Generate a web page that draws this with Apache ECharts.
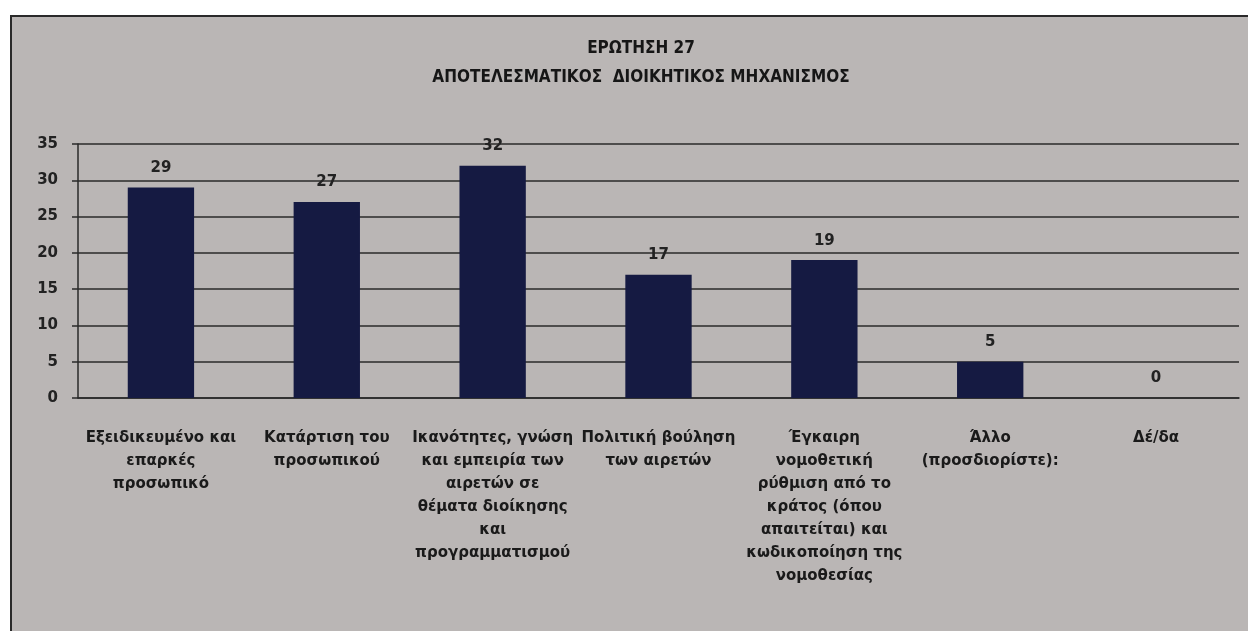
<!DOCTYPE html>
<html>
<head>
<meta charset="utf-8">
<title>ΕΡΩΤΗΣΗ 27</title>
<script src="https://cdn.jsdelivr.net/npm/echarts@6/dist/echarts.min.js"></script>
<style>
    html, body { margin: 0; padding: 0; background: #ffffff; }
    #chart { width: 1248px; height: 631px; }
</style>
</head>
<body>
<div id="chart"></div>
<script>
    // categories (line breaks as in the original chart)
    const categories = [
        'Εξειδικευμένο και\nεπαρκές\nπροσωπικό',
        'Κατάρτιση του\nπροσωπικού',
        'Ικανότητες, γνώση\nκαι εμπειρία των\nαιρετών σε\nθέματα διοίκησης\nκαι\nπρογραμματισμού',
        'Πολιτική βούληση\nτων αιρετών',
        'Έγκαιρη\nνομοθετική\nρύθμιση από το\nκράτος (όπου\nαπαιτείται) και\nκωδικοποίηση της\nνομοθεσίας',
        'Άλλο\n(προσδιορίστε):',
        'Δέ/δα'
    ];
    const answers = [29, 27, 32, 17, 19, 5, 0];
    const yTicks = {min: 0, max: 35, interval: 5};

    const chart = echarts.init(document.getElementById('chart'));

    chart.setOption({
        backgroundColor: '#ffffff',
        animation: false,
        graphic: [
            { // grey panel
                type: 'rect', z: -10, silent: true,
                shape: {x: 10, y: 15, width: 1238, height: 616},
                style: {fill: '#bab6b5'}
            },
            {
                type: 'line', z: -9, silent: true,
                shape: {x1: 10, y1: 16, x2: 1248, y2: 16},
                style: {stroke: '#2a2a2a', lineWidth: 2}
            },
            {
                type: 'line', z: -9, silent: true,
                shape: {x1: 11, y1: 15, x2: 11, y2: 631},
                style: {stroke: '#2a2a2a', lineWidth: 2}
            }
        ],
        title: {
            text: 'ΕΡΩΤΗΣΗ 27\nΑΠΟΤΕΛΕΣΜΑΤΙΚΟΣ  ΔΙΟΙΚΗΤΙΚΟΣ ΜΗΧΑΝΙΣΜΟΣ',
            left: 636,
            top: 29,
            textAlign: 'center',
            textStyle: {
                fontFamily: 'DejaVu Sans Condensed',
                fontSize: 17,
                fontWeight: 'bold',
                color: '#161616',
                lineHeight: 29,
                align: 'center'
            }
        },
        grid: {
            left: 78,
            right: 9,
            top: 144,
            bottom: 233,
            containLabel: false
        },
        xAxis: {
            type: 'category',
            data: categories,
            axisLine: {lineStyle: {color: '#2a2a2a', width: 1.5}},
            axisTick: {length: 6, lineStyle: {color: '#2a2a2a', width: 1.5}},
            axisLabel: {
                interval: 0,
                margin: 29,
                fontFamily: 'DejaVu Sans',
                fontSize: 15,
                fontWeight: 'bold',
                lineHeight: 23,
                color: '#1a1a1a'
            }
        },
        yAxis: {
            type: 'value',
            min: yTicks.min,
            max: yTicks.max,
            interval: yTicks.interval,
            axisLine: {show: true, lineStyle: {color: '#2a2a2a', width: 1.5}},
            axisTick: {show: true, length: 6, lineStyle: {color: '#2a2a2a', width: 1.5}},
            splitLine: {lineStyle: {color: '#2a2a2a', width: 1.5}},
            axisLabel: {
                margin: 20,
                fontFamily: 'DejaVu Sans',
                fontSize: 15,
                fontWeight: 'bold',
                color: '#222222'
            }
        },
        series: [{
            type: 'bar',
            data: answers,
            barWidth: '40%',
            itemStyle: {color: '#151a42'},
            label: {
                show: true,
                position: 'top',
                distance: 12,
                fontFamily: 'DejaVu Sans',
                fontSize: 15,
                fontWeight: 'bold',
                color: '#222222'
            }
        }]
    });
</script>
</body>
</html>
